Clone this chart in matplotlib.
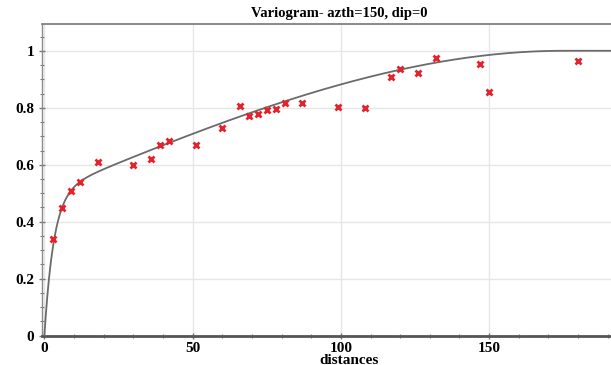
import numpy as np
import matplotlib
matplotlib.use("Agg")
import matplotlib.pyplot as plt
from matplotlib.ticker import MultipleLocator

# Experimental semivariogram (lag distance, normalised semivariance)
lag_dist = [3, 6, 9, 12, 18, 30, 36, 39, 42, 51, 60, 66, 69, 72, 75, 78, 81,
            87, 99, 108, 117, 120, 126, 132, 147, 150, 180]
gamma = [0.339, 0.447, 0.509, 0.540, 0.611, 0.599, 0.619, 0.668, 0.682, 0.670,
         0.728, 0.806, 0.770, 0.778, 0.793, 0.797, 0.815, 0.815, 0.804, 0.800,
         0.907, 0.935, 0.921, 0.973, 0.952, 0.856, 0.964]

# Nested model: short-range exponential + long-range spherical
sill_exp, range_exp = 0.5, 9.5
sill_sph, range_sph = 0.5, 175.0

x_ticks = [0, 50, 100, 150]
y_ticks = [0, 0.2, 0.4, 0.6, 0.8, 1]
y_tick_labels = ["0", "0.2", "0.4", "0.6", "0.8", "1"]


def model(h):
    h = np.asarray(h, dtype=float)
    g_exp = sill_exp * (1.0 - np.exp(-3.0 * h / range_exp))
    r = np.clip(h / range_sph, 0, 1)
    g_sph = sill_sph * (1.5 * r - 0.5 * r ** 3)
    return g_exp + g_sph


W, H = 611, 365
fig = plt.figure(figsize=(W / 100, H / 100), dpi=100)
fig.patch.set_facecolor("white")
ax = fig.add_axes([42 / W, (H - 335.7) / H, (611 - 42) / W, (335.7 - 24) / H])

font = {"family": "Liberation Serif", "weight": "bold"}

h = np.linspace(0, 200, 800)
ax.plot(h, model(h), color="#6b6b6b", lw=1.3, zorder=3)
ax.plot(lag_dist, gamma, linestyle="none", marker="x", color="#e3222b",
        markersize=5, mew=2, zorder=4)

ax.set_xlim(-0.8, 191.1)
ax.set_ylim(0, 1.094)

ax.set_xticks(x_ticks)
ax.set_xticklabels([str(t) for t in x_ticks], fontdict=font, fontsize=11)
ax.set_yticks(y_ticks)
ax.set_yticklabels(y_tick_labels, fontdict=font, fontsize=11)
ax.xaxis.set_minor_locator(MultipleLocator(10))
ax.yaxis.set_minor_locator(MultipleLocator(0.05))
ax.tick_params(which="both", direction="inout", color="#777777", pad=3)
ax.tick_params(which="major", length=5, width=1)
ax.tick_params(which="minor", length=3, width=0.8)
ax.tick_params(axis="x", pad=2)

ax.grid(True, which="major", color="#e6e6e6", lw=1)
ax.set_axisbelow(True)

ax.spines["right"].set_visible(False)
ax.spines["top"].set_color("#777777")
ax.spines["top"].set_linewidth(1.2)
ax.spines["left"].set_color("#8a8a8a")
ax.spines["left"].set_linewidth(1)
ax.spines["bottom"].set_color("#555555")
ax.spines["bottom"].set_linewidth(2)

fig.text(339 / W, (H - 13) / H, "Variogram- azth=150, dip=0", ha="center",
         va="center", fontdict=font, fontsize=10.5)
fig.text(349 / W, (H - 360) / H, "distances", ha="center", va="center",
         fontdict=font, fontsize=11)

fig.savefig("out.png", dpi=100)
